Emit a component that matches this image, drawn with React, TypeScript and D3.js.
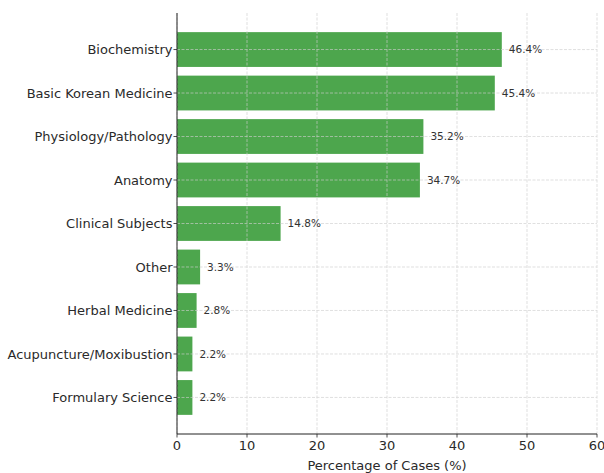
import React from "react";
import * as d3 from "d3";

const categories = [
  "Biochemistry",
  "Basic Korean Medicine",
  "Physiology/Pathology",
  "Anatomy",
  "Clinical Subjects",
  "Other",
  "Herbal Medicine",
  "Acupuncture/Moxibustion",
  "Formulary Science",
];
const percentages = [46.4, 45.4, 35.2, 34.7, 14.8, 3.3, 2.8, 2.2, 2.2];
const xTicks = [0, 10, 20, 30, 40, 50, 60];
const xLabel = "Percentage of Cases (%)";

const W = 604;
const H = 473;
const M = { left: 177, right: 7, top: 13, bottom: 39 };
const FONT = "'DejaVu Sans', sans-serif";
const TEXT = "#2a2a2a";
const BAR = "#4da64d";
const GRID = "#cfcfcf";

export default function App() {
  const x = d3.scaleLinear().domain([0, 60]).range([M.left, W - M.right]);
  // category index -> vertical position, with padding around the bands
  const n = categories.length;
  const y = d3
    .scaleLinear()
    .domain([-0.84, n - 1 + 0.84])
    .range([M.top, H - M.bottom]);
  const barH = y(0.4) - y(-0.4);
  const bottom = H - M.bottom;

  return (
    <svg
      width={W}
      height={H}
      style={{ position: "absolute", left: 0, top: 0, background: "#fff" }}
      fontFamily={FONT}
    >
      {/* bars */}
      {percentages.map((v, i) => (
        <rect
          key={categories[i]}
          x={x(0)}
          y={y(i) - barH / 2}
          width={x(v) - x(0)}
          height={barH}
          fill={BAR}
        />
      ))}
      {/* grid drawn over bars */}
      <g stroke={GRID} strokeWidth={0.8} strokeDasharray="3,1.5" opacity={0.8}>
        {xTicks.map((t) => (
          <line key={"gx" + t} x1={x(t)} x2={x(t)} y1={M.top} y2={bottom} />
        ))}
        {categories.map((c, i) => (
          <line key={"gy" + c} x1={M.left} x2={W - M.right} y1={y(i)} y2={y(i)} />
        ))}
      </g>
      {/* value labels */}
      {percentages.map((v, i) => (
        <text
          key={"v" + i}
          x={x(v + 1)}
          y={y(i)}
          dy="0.35em"
          fontSize={10.5}
          fill="#333"
        >
          {v.toFixed(1)}%
        </text>
      ))}
      {/* spines */}
      <line x1={M.left} x2={M.left} y1={M.top} y2={bottom} stroke="#222" strokeWidth={1} />
      <line x1={M.left} x2={W - M.right} y1={bottom} y2={bottom} stroke="#222" strokeWidth={1} />
      {/* y ticks & labels */}
      {categories.map((c, i) => (
        <g key={"yt" + c}>
          <line x1={M.left - 3.5} x2={M.left} y1={y(i)} y2={y(i)} stroke="#222" strokeWidth={0.8} />
          <text
            x={M.left - 4.5}
            y={y(i)}
            dy="0.35em"
            textAnchor="end"
            fontSize={13}
            fill={TEXT}
          >
            {c}
          </text>
        </g>
      ))}
      {/* x ticks & labels */}
      {xTicks.map((t) => (
        <g key={"xt" + t}>
          <line x1={x(t)} x2={x(t)} y1={bottom} y2={bottom + 3.5} stroke="#222" strokeWidth={0.8} />
          <text
            x={x(t)}
            y={bottom + 6.5}
            dy="0.76em"
            textAnchor="middle"
            fontSize={13}
            fill={TEXT}
          >
            {t}
          </text>
        </g>
      ))}
      <text
        x={(x(0) + x(60)) / 2}
        y={H - 3}
        textAnchor="middle"
        fontSize={13}
        fill={TEXT}
      >
        {xLabel}
      </text>
    </svg>
  );
}
